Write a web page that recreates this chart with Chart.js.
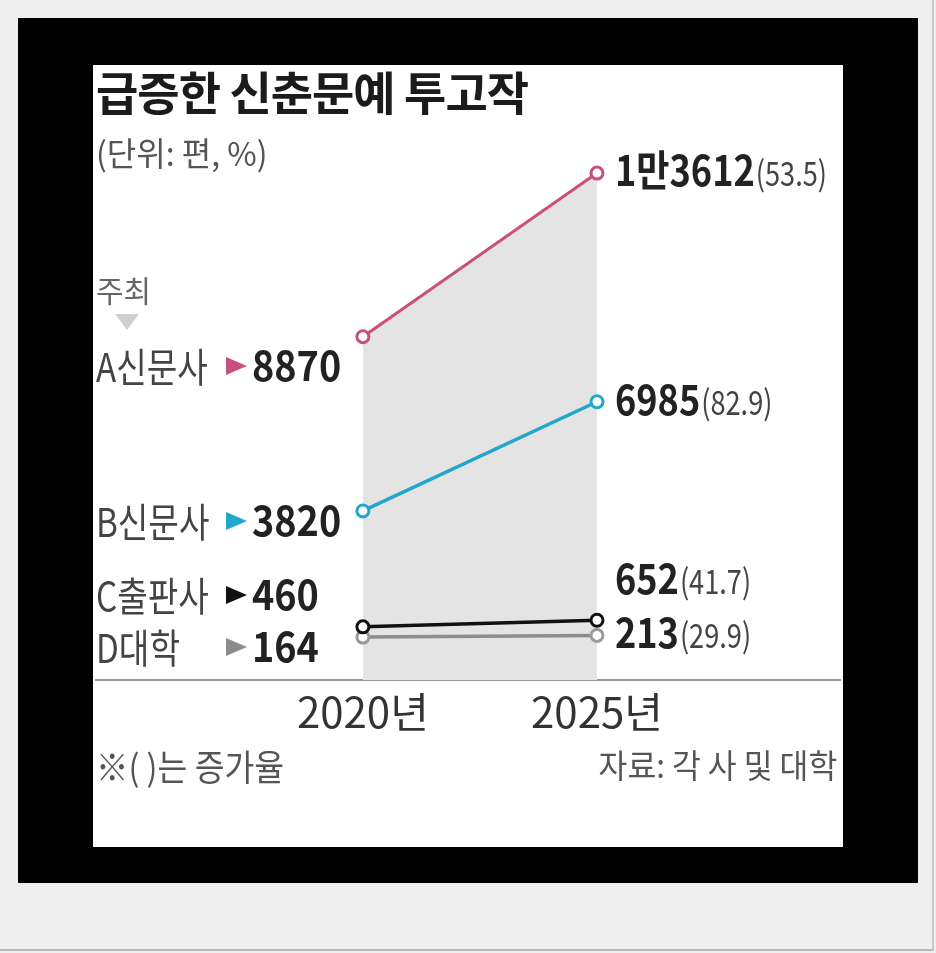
<!DOCTYPE html>
<html>
<head>
<meta charset="utf-8">
<script src="https://cdn.jsdelivr.net/npm/chart.js@4.4.1/dist/chart.umd.min.js"></script>
<style>
    body { margin: 0; width: 936px; height: 953px; background: #efefef; overflow: hidden; position: relative;
           font-family: 'Noto Sans CJK KR', 'Noto Sans', sans-serif; }
    #edge { position: absolute; left: 0; top: 0; width: 932px; height: 949px; border-right: 2px solid #c9c9c9; border-bottom: 2px solid #b8b8b8; }
    #frame { position: absolute; left: 18px; top: 18px; width: 900px; height: 865px; background: #000; }
    #panel { position: absolute; left: 93px; top: 65px; width: 750px; height: 782px; background: #fff; }
    canvas { position: absolute; left: 0; top: 0; }
    .t { position: absolute; line-height: 1; white-space: nowrap; transform-origin: left top; }
    #title { left: 96px; top: 67px; font-size: 46px; font-weight: 700; color: #1b1b1b; letter-spacing: -1px; }
    #unit { left: 96px; top: 136px; font-size: 33px; color: #555; transform: scaleX(0.97); }
    #host { left: 96px; top: 274px; font-size: 30px; color: #666; }
    #down { position: absolute; left: 115px; top: 314px; width: 0; height: 0;
            border-left: 12px solid transparent; border-right: 12px solid transparent; border-top: 16px solid #cfcfcf; }
    #note { left: 96px; top: 747px; font-size: 36px; color: #555; transform: scaleX(0.9); }
    #source { right: 99px; top: 748px; font-size: 33px; color: #555; transform-origin: right top; transform: scaleX(0.95); }
</style>
</head>
<body>
<div id="edge"></div>
<div id="frame"></div>
<div id="panel"></div>
<canvas id="chart" width="936" height="953"></canvas>
<div class="t" id="title">급증한 신춘문예 투고작</div>
<div class="t" id="unit">(단위: 편, %)</div>
<div class="t" id="host">주최</div>
<div id="down"></div>
<div class="t" id="note">※( )는 증가율</div>
<div class="t" id="source">자료: 각 사 및 대학</div>

<script>
// Data
const years = [2020, 2025];
const seriesNames = ['A신문사', 'B신문사', 'C출판사', 'D대학'];
const seriesA = [8870, 13612];
const seriesB = [3820, 6985];
const seriesC = [460, 652];
const seriesD = [164, 213];

// Styles
const colors = ['#c8507e', '#22a7cb', '#111111', '#8c8c8c'];
const pointColors = ['#c8507e', '#22a7cb', '#111111', '#9a9a9a'];
const FONT = "'Noto Sans CJK KR', 'Noto Sans', sans-serif";

// 13612 -> 1만3612
function formatKo(v) {
    if (v >= 10000) return Math.floor(v / 10000) + '만' + (v % 10000);
    return String(v);
}

function growth(vals) {
    return ((vals[1] - vals[0]) / vals[0] * 100).toFixed(1);
}

// draw horizontally condensed text, returns drawn width
function drawText(c, str, x, y, size, weight, color, sx) {
    c.save();
    c.font = weight + ' ' + size + 'px ' + FONT;
    c.fillStyle = color;
    c.textBaseline = 'alphabetic';
    c.textAlign = 'left';
    c.translate(x, y);
    c.scale(sx, 1);
    c.fillText(str, 0, 0);
    const w = c.measureText(str).width * sx;
    c.restore();
    return w;
}

// push labels apart: keep below the header, then from the bottom up
function spread(centers, gap, topLimit) {
    const out = centers.slice();
    if (topLimit) out[0] = Math.max(out[0], topLimit);
    for (let i = out.length - 2; i >= 0; i--) {
        out[i] = Math.min(out[i], out[i + 1] - gap);
    }
    return out;
}

const labelPlugin = {
    id: 'sideLabels',
    afterDatasetsDraw(chart) {
        const c = chart.ctx;
        const all = [seriesA, seriesB, seriesC, seriesD];
        const metas = all.map((_, i) => chart.getDatasetMeta(i));

        // left side (2020), below the "주최" header
        const left = spread(metas.map(m => m.data[0].y + 10), 52, 366);
        left.forEach((cy, i) => {
            const base = cy + 15;
            drawText(c, seriesNames[i], 96, base + 1, 40, 'normal', '#444', 0.83);
            c.save();
            c.fillStyle = colors[i];
            c.beginPath();
            c.moveTo(226, cy - 9);
            c.lineTo(247, cy);
            c.lineTo(226, cy + 9);
            c.closePath();
            c.fill();
            c.restore();
            drawText(c, formatKo(all[i][0]), 252, base, 42, 'bold', '#222', 0.9);
        });

        // right side (2025)
        const right = spread(metas.map(m => m.data[1].y - 2), 54);
        right.forEach((cy, i) => {
            const base = cy + 15;
            const x = metas[i].data[1].x + 18;
            const w = drawText(c, formatKo(all[i][1]), x, base, 42, 'bold', '#222', 0.86);
            drawText(c, '(' + growth(all[i]) + ')', x + w + 1, base, 34, 'normal', '#444', 0.8);
        });
    }
};

const ctx = document.getElementById('chart').getContext('2d');

new Chart(ctx, {
    type: 'line',
    data: {
        datasets: [seriesA, seriesB, seriesC, seriesD].map((vals, i) => ({
            label: seriesNames[i],
            data: years.map((yr, j) => ({ x: yr, y: vals[j] })),
            borderColor: colors[i],
            borderWidth: i === 0 ? 3 : 3.5,
            pointRadius: 6,
            pointBorderWidth: 3,
            pointBorderColor: pointColors[i],
            pointBackgroundColor: '#fff',
            fill: i === 0 ? 'start' : false,
            backgroundColor: i === 0 ? '#e4e4e4' : 'transparent',
            tension: 0
        }))
    },
    options: {
        responsive: false,
        animation: false,
        layout: { padding: { left: 96, right: 96, top: 100, bottom: 213 } },
        plugins: {
            legend: { display: false },
            tooltip: { enabled: false },
            filler: { drawTime: 'beforeDatasetsDraw' }
        },
        scales: {
            x: {
                type: 'linear',
                min: 2014.3,
                max: 2030.19,
                afterBuildTicks: s => { s.ticks = years.map(v => ({ value: v })); },
                afterFit: s => { s.height = 60; },
                grid: { display: false, drawTicks: false },
                border: { display: true, color: '#999', width: 2 },
                ticks: {
                    callback: v => v + '년',
                    color: '#333',
                    padding: 7,
                    maxRotation: 0,
                    font: { family: FONT, size: 42 }
                }
            },
            y: {
                display: false,
                min: -1080,
                max: 15730
            }
        }
    },
    plugins: [labelPlugin]
});
</script>
</body>
</html>
